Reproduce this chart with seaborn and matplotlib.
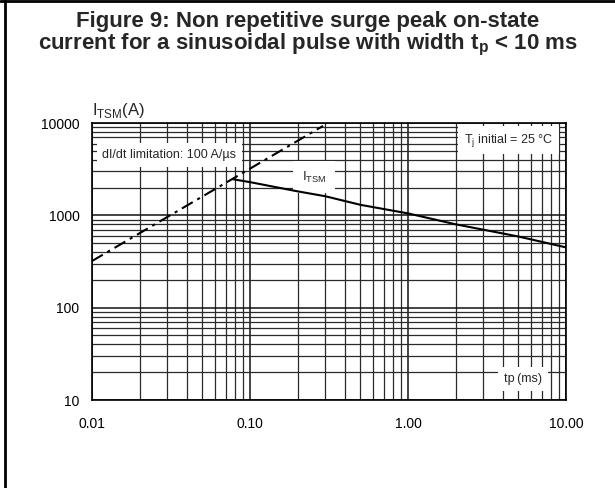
import matplotlib
matplotlib.use("Agg")
import numpy as np
import pandas as pd
import matplotlib.pyplot as plt
import matplotlib.ticker as mticker
from matplotlib.lines import Line2D
import seaborn as sns

# dI/dt limitation line (dash-dot)
limit_tp = [0.01, 0.29]
limit_i = [320, 9300]

# ITSM curve
surge_tp = [0.078, 0.1, 0.2, 0.3, 0.5, 1.0, 2.0, 5.0, 10.0]
surge_i = [2460, 2290, 1820, 1610, 1300, 1050, 800, 590, 450]

x_ticks = [0.01, 0.1, 1, 10]
x_labels = ["0.01", "0.10", "1.00", "10.00"]
y_ticks = [10, 100, 1000, 10000]
y_labels = ["10", "100", "1000", "10000"]

sns.set_style("white")
plt.rcParams['font.family'] = ['Liberation Sans', 'DejaVu Sans']

fig = plt.figure(figsize=(6.15, 4.88), dpi=100)
ax = fig.add_axes([0.1496, 0.1803, 0.7707, 0.5676])

limit_df = pd.DataFrame({'tp': limit_tp, 'itsm': limit_i})
surge_df = pd.DataFrame({'tp': surge_tp, 'itsm': surge_i})

sns.lineplot(data=limit_df, x='tp', y='itsm', ax=ax, color='black', lw=1.5,
             linestyle=(0, (6, 2.5, 1.5, 2.5)), zorder=4)
sns.lineplot(data=surge_df, x='tp', y='itsm', ax=ax, color='black', lw=1.5, zorder=4)

ax.set_xscale('log')
ax.set_yscale('log')
ax.set_xlim(0.01, 10)
ax.set_ylim(10, 10000)

ax.xaxis.set_major_locator(mticker.FixedLocator(x_ticks))
ax.xaxis.set_major_formatter(mticker.FixedFormatter(x_labels))
ax.yaxis.set_major_locator(mticker.FixedLocator(y_ticks))
ax.yaxis.set_major_formatter(mticker.FixedFormatter(y_labels))
ax.xaxis.set_minor_locator(mticker.LogLocator(base=10, subs=np.arange(2, 10)))
ax.yaxis.set_minor_locator(mticker.LogLocator(base=10, subs=np.arange(2, 10)))
ax.xaxis.set_minor_formatter(mticker.NullFormatter())
ax.yaxis.set_minor_formatter(mticker.NullFormatter())

ax.grid(which='major', color='#111111', lw=1.1)
ax.grid(which='minor', color='#2a2a2a', lw=0.9)
ax.set_axisbelow(True)
ax.tick_params(which='both', length=0, labelsize=10, colors='black')
ax.tick_params(axis='x', pad=12)
ax.tick_params(axis='y', pad=9)
for s in ax.spines.values():
    s.set_color('black')
    s.set_linewidth(1.2)
ax.set_xlabel('')
ax.set_ylabel('')

ax.text(0.0116, 4500, "dI/dt limitation: 100 A/\u00b5s", fontsize=9, ha='left', va='center',
        bbox=dict(boxstyle='square,pad=0.45', fc='white', ec='none'), zorder=3)
ax.text(0.255, 2600, "I$_\\mathregular{TSM}$", fontsize=9.5, ha='center', va='center',
        bbox=dict(boxstyle='square,pad=0.65', fc='white', ec='none'), zorder=3)
ax.text(8.3, 6540, "T$_\\mathregular{j}$ initial = 25 \u00b0C", fontsize=9, ha='right', va='center',
        bbox=dict(boxstyle='square,pad=0.45', fc='white', ec='none'), zorder=3)
ax.text(5.35, 16.8, "tp\u2009(ms)", fontsize=9, ha='center', va='center',
        bbox=dict(boxstyle='square,pad=0.5', fc='white', ec='none'), zorder=3)

fig.text(0.1496, 0.755, "I$_\\mathregular{TSM}$(A)", fontsize=12, ha='left', va='bottom')

fig.text(0.5, 0.978, "Figure 9: Non repetitive surge peak on-state\n"
         "current for a sinusoidal pulse with width t$_\\mathregular{p}$ < 10 ms",
         fontsize=16, fontweight='bold', ha='center', va='top', linespacing=1.0)

fig.add_artist(Line2D([0, 1], [0.998, 0.998], transform=fig.transFigure, color='black', lw=2))
fig.add_artist(Line2D([0.008, 0.008], [0, 1], transform=fig.transFigure, color='black', lw=2))

fig.savefig('out.png', dpi=100)
